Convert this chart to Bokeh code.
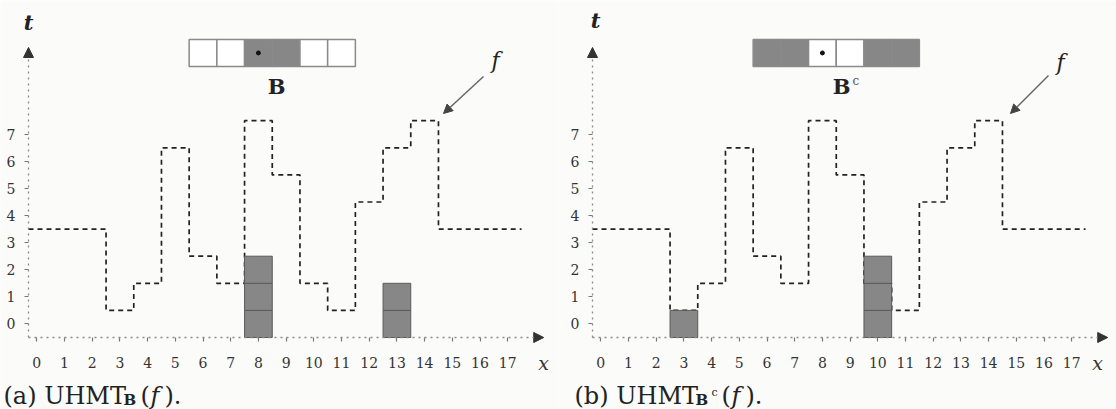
from bokeh.plotting import figure
from bokeh.layouts import row
from bokeh.models import Arrow, NormalHead, Label, FixedTicker, Range1d
from bokeh.embed import file_html
from bokeh.resources import INLINE

# ---- data ----
x_vals = list(range(18))                      # x positions 0..17
f_vals = [3, 3, 3, 0, 1, 6, 2, 1, 7, 5, 1, 0, 4, 6, 7, 3, 3, 3]   # f(x)
t_ticks = list(range(8))                      # t tick labels 0..7
se_offsets = [-2, -1, 0, 1, 2, 3]             # structuring element cells around origin
B_mask = [0, 0, 1, 1, 0, 0]                   # B : 1 = foreground (grey)
Bc_mask = [1, 1, 0, 0, 1, 1]                  # B^c
uhmtB_x = [8, 13]                             # UHMT_B(f) positions
uhmtB_v = [3, 2]                              # number of grey cells
uhmtBc_x = [3, 10]                            # UHMT_Bc(f) positions
uhmtBc_v = [1, 3]

# ---- layout constants ----
PXX, PXY = 27.7, 27.1
W, H = 558, 409
AXIS_PY = 337
BG = "#fbfbf9"
GREY = "#878787"
SERIF = "DejaVu Serif"
SE_ORIGIN_X, SE_ROW_T = 8, 10
X_AXIS_T, Y_AXIS_X = -0.5, -0.3


def make_panel(fig_left, yaxis_px, mask, res_x, res_v, cap, sup_c, xlab_px, f_lbl_px, f_arr_px, t_lbl_px):
    xs0 = Y_AXIS_X - (yaxis_px - fig_left) / PXX
    ys0 = X_AXIS_T - (H - AXIS_PY) / PXY
    p = figure(width=W, height=H,
               x_range=Range1d(xs0, xs0 + W / PXX),
               y_range=Range1d(ys0, ys0 + H / PXY),
               output_backend="svg", toolbar_location=None,
               min_border=0, min_border_left=0, min_border_right=0,
               min_border_top=0, min_border_bottom=0,
               background_fill_color=BG, border_fill_color=BG,
               outline_line_color=None)
    p.grid.visible = False
    p.xaxis.fixed_location = X_AXIS_T
    p.yaxis.fixed_location = Y_AXIS_X
    p.xaxis.ticker = FixedTicker(ticks=x_vals)
    p.yaxis.ticker = FixedTicker(ticks=t_ticks)
    p.axis.axis_line_color = None
    p.axis.major_tick_in = 0
    p.axis.major_tick_out = 4
    p.axis.major_tick_line_color = "#777777"
    p.axis.major_tick_line_width = 1.2
    p.axis.minor_tick_line_color = None
    p.axis.major_label_text_font = SERIF
    p.axis.major_label_text_font_size = "14px"
    p.axis.major_label_text_color = "#333333"
    p.xaxis.major_label_standoff = 15
    p.yaxis.major_label_standoff = 9

    def lx(px):
        return xs0 + (px - fig_left) / PXX

    def ly(py):
        return X_AXIS_T + (AXIS_PY - py) / PXY

    # axes arrows
    head = dict(size=10, fill_color="#333333", line_color="#333333")
    p.add_layout(Arrow(end=NormalHead(**head), x_start=Y_AXIS_X, y_start=X_AXIS_T,
                       x_end=18.3, y_end=X_AXIS_T,
                       line_color="#8a8a8a", line_width=1.3, line_dash="dotted"))
    p.add_layout(Arrow(end=NormalHead(**head), x_start=Y_AXIS_X, y_start=X_AXIS_T,
                       x_end=Y_AXIS_X, y_end=10.2,
                       line_color="#8a8a8a", line_width=1.3, line_dash="dotted"))

    # f as dashed staircase, clipped at the t axis
    xs, ys = [], []
    for xv, fv in zip(x_vals, f_vals):
        xs += [max(xv - 0.5, Y_AXIS_X), xv + 0.5]
        ys += [fv + 0.5, fv + 0.5]
    p.line(xs, ys, line_color="#222222", line_width=1.7, line_dash="5 4")

    # UHMT result bars as stacks of cells
    cx, ct = [], []
    for xv, v in zip(res_x, res_v):
        for t in range(v):
            cx.append(xv)
            ct.append(t)
    p.rect(cx, ct, width=1, height=1, fill_color=GREY, line_color="#5a5a5a", line_width=1)

    # structuring element
    sx = [SE_ORIGIN_X + o for o in se_offsets]
    cols = [GREY if m else "white" for m in mask]
    p.rect(sx, [SE_ROW_T] * len(sx), width=1, height=1, fill_color=cols,
           line_color="#8a8a8a", line_width=1.5)
    p.scatter([SE_ORIGIN_X], [SE_ROW_T], size=4, color="#111111")

    # B / B^c label
    p.add_layout(Label(x=lx(cap["se_px"]), y=ly(86), text="B", text_font=SERIF,
                       text_font_style="bold", text_font_size="21px", text_align="center",
                       text_baseline="middle", text_color="#222222"))
    if sup_c:
        p.add_layout(Label(x=lx(cap["se_px"] + 11), y=ly(80), text="c", text_font=SERIF,
                           text_font_size="12px", text_align="left",
                           text_baseline="middle", text_color="#555555"))

    # t, x, f labels
    p.add_layout(Label(x=lx(t_lbl_px[0]), y=ly(t_lbl_px[1]), text="t", text_font=SERIF,
                       text_font_style="bold italic", text_font_size="21px", text_align="center",
                       text_baseline="middle", text_color="#222222"))
    p.add_layout(Label(x=lx(xlab_px), y=ly(362), text="x", text_font=SERIF,
                       text_font_style="italic", text_font_size="19px", text_align="center",
                       text_baseline="middle", text_color="#333333"))
    p.add_layout(Label(x=lx(f_lbl_px[0]), y=ly(f_lbl_px[1]), text="f", text_font=SERIF,
                       text_font_style="italic", text_font_size="22px", text_align="center",
                       text_baseline="middle", text_color="#222222"))
    p.add_layout(Arrow(end=NormalHead(size=9, fill_color="#444444", line_color="#444444"),
                       x_start=lx(f_arr_px[0]), y_start=ly(f_arr_px[1]),
                       x_end=lx(f_arr_px[2]), y_end=ly(f_arr_px[3]),
                       line_color="#666666", line_width=1.5))

    # caption pieces
    for txt, px, py, size, style in cap["pieces"]:
        p.add_layout(Label(x=lx(px), y=ly(py), text=txt, text_font=SERIF,
                           text_font_style=style, text_font_size=size, text_align="left",
                           text_baseline="alphabetic", text_color="#222222"))
    return p


cap_a = {"se_px": 276, "pieces": [
    ("(a) UHMT", 3, 395, "24px", "normal"),
    ("B", 123, 399, "15px", "bold"),
    ("(", 140, 395, "24px", "normal"),
    ("f", 150, 395, "24px", "italic"),
    (").", 164, 395, "24px", "normal"),
]}
cap_b = {"se_px": 841, "pieces": [
    ("(b) UHMT", 574, 395, "24px", "normal"),
    ("B", 695, 399, "15px", "bold"),
    ("c", 711, 392, "11px", "normal"),
    ("(", 721, 395, "24px", "normal"),
    ("f", 731, 395, "24px", "italic"),
    (").", 745, 395, "24px", "normal"),
]}

pa = make_panel(0, 28, B_mask, uhmtB_x, uhmtB_v, cap_a, False, 543,
                (495, 60), (483, 76, 443, 113), (28, 22))
pb = make_panel(558, 592, Bc_mask, uhmtBc_x, uhmtBc_v, cap_b, True, 1097,
                (1060, 62), (1048, 75, 1010, 113), (595, 20))

layout = row(pa, pb)
open("out.html", "w").write(file_html(layout, INLINE))
